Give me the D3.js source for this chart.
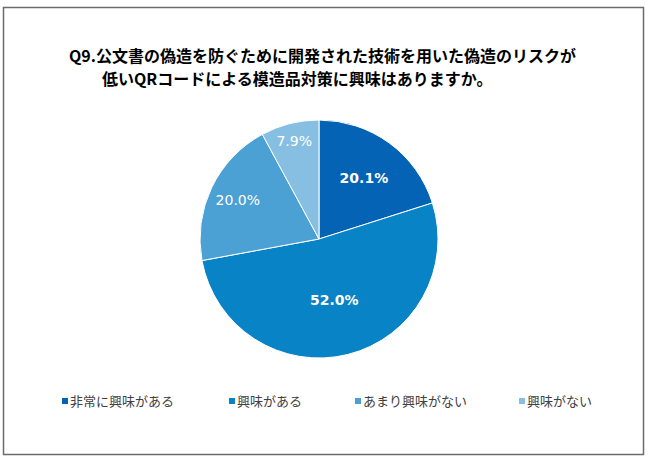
<!DOCTYPE html>
<html>
<head>
<meta charset="utf-8">
<script src="https://cdn.jsdelivr.net/npm/d3@7"></script>
<style>
  body { margin: 0; background: #fff; }
</style>
</head>
<body>
<div id="chart"></div>
<script>
// data
var categories = ["非常に興味がある", "興味がある", "あまり興味がない", "興味がない"];
var values = [20.1, 52.0, 20.0, 7.9];
var colors = ["#0563b5", "#0883c6", "#4ba0d4", "#87bfe2"];
var titleLines = ["Q9.公文書の偽造を防ぐために開発された技術を用いた偽造のリスクが",
                  "低いQRコードによる模造品対策に興味はありますか。"];

var width = 650, height = 463;

// layout tweaks (label distance from centre, legend x) - excel places these by hand
var labelRadius = [76, 63, 90, 101];
var legendPos = [62, 229, 355, 519];

var svg = d3.select("#chart")
    .append("svg")
    .attr("width", width)
    .attr("height", height);

// frame
svg.append("rect")
    .attr("x", 3.5).attr("y", 7.5)
    .attr("width", 640).attr("height", 447)
    .attr("fill", "#fff")
    .attr("stroke", "#6b6b6b")
    .attr("stroke-width", 1.5);

// title
svg.append("text")
    .attr("x", 69).attr("y", 62)
    .style("font-family", "'Noto Sans CJK JP', sans-serif")
    .style("font-weight", "bold")
    .style("font-size", "16px")
    .attr("fill", "#000")
    .text(titleLines[0]);
svg.append("text")
    .attr("x", 102).attr("y", 85)
    .style("font-family", "'Noto Sans CJK JP', sans-serif")
    .style("font-weight", "bold")
    .style("font-size", "16px")
    .attr("fill", "#000")
    .text(titleLines[1]);

// pie
var cx = 319, cy = 239, r = 119;
var g = svg.append("g").attr("transform", "translate(" + cx + "," + cy + ")");

var pie = d3.pie().sort(null).value(function(d) { return d; });
var arc = d3.arc().innerRadius(0).outerRadius(r);

var arcs = pie(values);

g.selectAll("path")
    .data(arcs)
    .enter()
    .append("path")
    .attr("d", arc)
    .attr("fill", function(d, i) { return colors[i]; })
    .attr("stroke", "#fff")
    .attr("stroke-width", 1);

g.selectAll("text.lbl")
    .data(arcs)
    .enter()
    .append("text")
    .attr("class", "lbl")
    .attr("transform", function(d, i) {
        var la = d3.arc().innerRadius(labelRadius[i]).outerRadius(labelRadius[i]);
        return "translate(" + la.centroid(d) + ")";
    })
    .attr("text-anchor", "middle")
    .attr("dy", "0.35em")
    .style("font-family", "'DejaVu Sans', Verdana, sans-serif")
    .style("font-size", "14px")
    .style("font-weight", function(d, i) { return i < 2 ? "bold" : "normal"; })
    .attr("fill", "#fff")
    .text(function(d) { return d.value.toFixed(1) + "%"; });

// legend
var legendX = d3.scaleOrdinal()
    .domain(categories)
    .range(legendPos);

var leg = svg.selectAll("g.legend")
    .data(categories)
    .enter()
    .append("g")
    .attr("class", "legend")
    .attr("transform", function(d) { return "translate(" + legendX(d) + ",401)"; });

leg.append("rect")
    .attr("x", 0).attr("y", -3)
    .attr("width", 6).attr("height", 6)
    .attr("fill", function(d, i) { return colors[i]; });

leg.append("text")
    .attr("x", 8).attr("y", 0)
    .attr("dy", "0.35em")
    .style("font-family", "'Noto Sans CJK JP', sans-serif")
    .style("font-size", "13px")
    .attr("fill", "#404040")
    .text(function(d) { return d; });
</script>
</body>
</html>
